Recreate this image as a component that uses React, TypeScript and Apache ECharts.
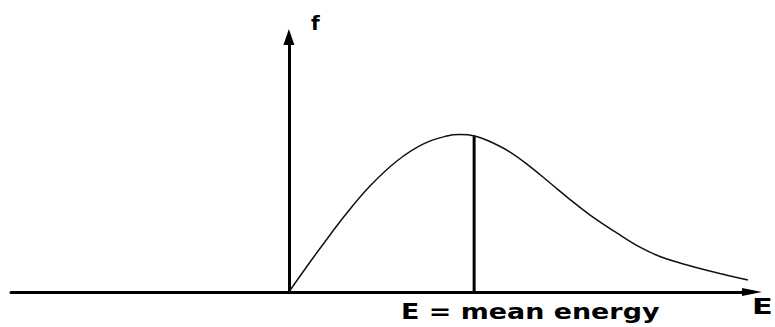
import React, { useEffect, useRef } from "react";
import * as echarts from "echarts";

// Energy (in units of the mean energy) and distribution value f (peak ≈ 1)
const energyValues = [0, 0.13, 0.222, 0.313, 0.438, 0.583, 0.724, 0.853, 0.923, 1.004, 1.085, 1.194, 1.302, 1.41, 1.518, 1.626, 1.787, 1.895, 2.003, 2.111, 2.219, 2.327, 2.478];
const fValues = [0, 0.213, 0.358, 0.496, 0.665, 0.822, 0.928, 0.979, 0.988, 0.979, 0.944, 0.878, 0.787, 0.684, 0.58, 0.483, 0.358, 0.282, 0.223, 0.182, 0.147, 0.116, 0.075];
const meanEnergy = 1;
const fAtMean = 0.977;

const yAxisLabel = "f";
const xAxisLabel = "E";
const meanLabel = "E = mean energy";

export default function App() {
  const ref = useRef<HTMLDivElement>(null);
  useEffect(() => {
    if (!ref.current) return;
    const chart = echarts.init(ref.current, null, { renderer: "svg" });
    const curve = energyValues.map((e, i) => [e, fValues[i]]);
    const meanLine = [
      [meanEnergy, 0],
      [meanEnergy, fAtMean],
    ];
    const font = "DejaVu Sans";
    chart.setOption({
      animation: false,
      backgroundColor: "#ffffff",
      grid: { left: 11, right: 23, top: 37, bottom: 35 },
      xAxis: {
        type: "value",
        min: -1.5,
        max: 2.5,
        axisLine: {
          show: true,
          onZero: true,
          symbol: ["none", "triangle"],
          symbolSize: [8, 20],
          lineStyle: { color: "#000", width: 3 },
        },
        axisTick: { show: false },
        axisLabel: { show: false },
        splitLine: { show: false },
      },
      yAxis: {
        type: "value",
        min: 0,
        max: 1.6,
        axisLine: {
          show: true,
          onZero: true,
          symbol: ["none", "triangle"],
          symbolSize: [11, 16],
          lineStyle: { color: "#000", width: 3 },
        },
        axisTick: { show: false },
        axisLabel: { show: false },
        splitLine: { show: false },
      },
      series: [
        {
          type: "line",
          data: curve,
          smooth: 0.4,
          symbol: "none",
          lineStyle: { color: "#111", width: 1.5 },
        },
        {
          type: "line",
          data: meanLine,
          symbol: "none",
          lineStyle: { color: "#000", width: 3 },
        },
      ],
      graphic: [
        {
          type: "text",
          x: 311,
          y: 13,
          style: {
            text: yAxisLabel,
            font: `bold 20px "${font}"`,
            fill: "#000",
            textAlign: "left",
            textVerticalAlign: "top",
          },
        },
        {
          type: "text",
          x: 752,
          y: 296,
          scaleX: 1.45,
          style: {
            text: xAxisLabel,
            font: `bold 21px "${font}"`,
            fill: "#000",
            textAlign: "left",
            textVerticalAlign: "top",
          },
        },
        {
          type: "text",
          x: 401,
          y: 300,
          scaleX: 1.224,
          style: {
            text: meanLabel,
            font: `bold 22px "${font}"`,
            fill: "#000",
            textAlign: "left",
            textVerticalAlign: "top",
          },
        },
      ],
    });
    return () => chart.dispose();
  }, []);
  return <div ref={ref} style={{ width: 775, height: 327, position: "fixed", left: 0, top: 0 }} />;
}
